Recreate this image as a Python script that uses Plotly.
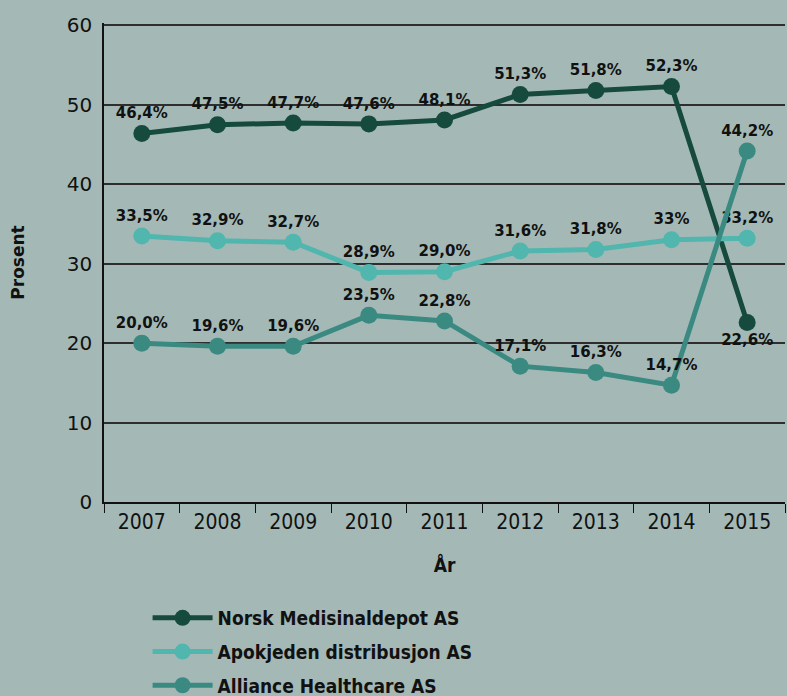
import plotly.graph_objects as go

years = ["2007", "2008", "2009", "2010", "2011", "2012", "2013", "2014", "2015"]
nmd = [46.4, 47.5, 47.7, 47.6, 48.1, 51.3, 51.8, 52.3, 22.6]
nmd_labels = ["46,4%", "47,5%", "47,7%", "47,6%", "48,1%", "51,3%", "51,8%", "52,3%", "22,6%"]
apo = [33.5, 32.9, 32.7, 28.9, 29.0, 31.6, 31.8, 33.0, 33.2]
apo_labels = ["33,5%", "32,9%", "32,7%", "28,9%", "29,0%", "31,6%", "31,8%", "33%", "33,2%"]
all_ = [20.0, 19.6, 19.6, 23.5, 22.8, 17.1, 16.3, 14.7, 44.2]
all_labels = ["20,0%", "19,6%", "19,6%", "23,5%", "22,8%", "17,1%", "16,3%", "14,7%", "44,2%"]

names = ["Norsk Medisinaldepot AS", "Apokjeden distribusjon AS", "Alliance Healthcare AS"]
colors = ["#164a3d", "#50b6ae", "#3a8a82"]

BG = "#a4b9b6"
narrow = "Liberation Sans Narrow, DejaVu Sans Condensed, Roboto, sans-serif"
label_font = dict(family="DejaVu Sans, sans-serif", size=15, color="#111111")

fig = go.Figure()
series = [(nmd, nmd_labels), (apo, apo_labels), (all_, all_labels)]
for i, ((vals, labs), name, col) in enumerate(zip(series, names, colors)):
    pos = ["top center"] * len(vals)
    if i == 0:
        pos[-1] = "bottom center"
    fig.add_trace(go.Scatter(
        x=years, y=vals, name=f"<b>{name}</b>", mode="lines+markers+text",
        line=dict(color=col, width=5),
        marker=dict(color=col, size=17),
        text=[f"<b>{t}</b>" for t in labs],
        textposition=pos,
        textfont=label_font,
        legendgroup=name,
        cliponaxis=False,
    ))

# plot area: 479 px tall holding 0..60.3 so that 60 sits ~25 px from the top
fig.update_layout(
    width=787, height=696,
    paper_bgcolor=BG, plot_bgcolor=BG,
    margin=dict(l=104, r=2, t=23, b=194, autoexpand=False),
    showlegend=True,
    legend=dict(
        orientation="v", x=0.064, xanchor="left", y=-0.2025, yanchor="top",
        font=dict(family=narrow, size=19, color="#111111"),
        itemwidth=60, tracegroupgap=6, bgcolor="rgba(0,0,0,0)",
    ),
    xaxis=dict(
        type="category", range=[-0.5, 8.5],
        showline=True, linecolor="#111111", linewidth=2,
        ticks="outside", tickson="boundaries", ticklen=9, tickcolor="#111111", tickwidth=1,
        showgrid=False,
        tickfont=dict(family=narrow, size=21, color="#111111"),
        title=dict(text="<b>År</b>", font=dict(family=narrow, size=19, color="#111111"), standoff=25),
    ),
    yaxis=dict(
        range=[0, 60.3], dtick=10,
        showline=True, linecolor="#111111", linewidth=1.5,
        showgrid=True, gridcolor="#2e2e2e", gridwidth=1.5,
        zeroline=False, ticks="", ticklabelstandoff=6,
        tickfont=dict(family="DejaVu Sans, sans-serif", size=20, color="#111111"),
        title=dict(text="<b>Prosent</b>", font=dict(family="DejaVu Sans, sans-serif", size=17, color="#111111"), standoff=38),
    ),
)

fig.write_html(
    "out.html",
    config={"displayModeBar": False},
    post_script="document.body.style.margin='0';document.body.style.background='%s';" % BG,
)
